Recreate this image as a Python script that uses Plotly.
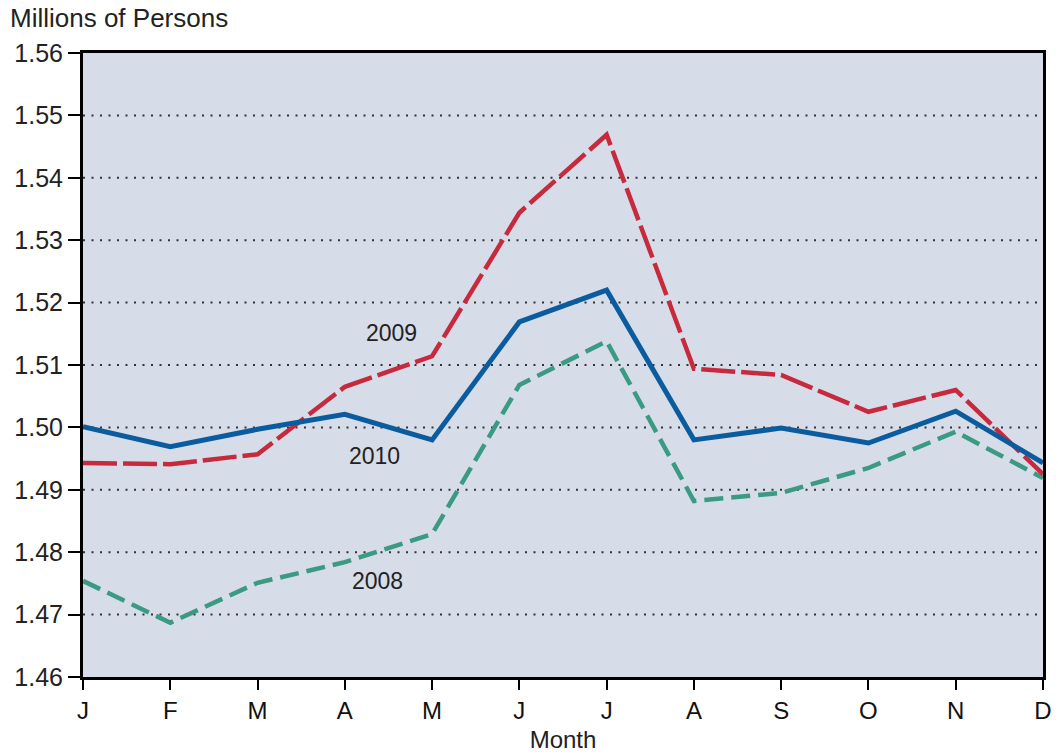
import plotly.graph_objects as go

months = ["J", "F", "M", "A", "M", "J", "J", "A", "S", "O", "N", "D"]
y2010 = [1.5001, 1.4969, 1.4997, 1.5021, 1.4980, 1.5169, 1.5220, 1.4980, 1.4999, 1.4975, 1.5026, 1.4943]
y2009 = [1.4943, 1.4941, 1.4957, 1.5065, 1.5114, 1.5344, 1.5469, 1.5094, 1.5084, 1.5025, 1.5060, 1.4925]
y2008 = [1.4754, 1.4687, 1.4751, 1.4784, 1.4829, 1.5068, 1.5138, 1.4882, 1.4895, 1.4935, 1.4993, 1.4919]
ytick_vals = [1.46, 1.47, 1.48, 1.49, 1.50, 1.51, 1.52, 1.53, 1.54, 1.55, 1.56]
ytick_text = ["1.46", "1.47", "1.48", "1.49", "1.50", "1.51", "1.52", "1.53", "1.54", "1.55", "1.56"]

x = list(range(len(months)))
FONT = "Liberation Sans, Arial, sans-serif"

fig = go.Figure()
for v in ytick_vals[1:-1]:
    fig.add_shape(type="line", xref="paper", yref="y", x0=0, x1=1, y0=v, y1=v,
                  line=dict(color="#333333", width=2, dash="2px,6.5px"), layer="below")

fig.add_trace(go.Scatter(x=x, y=y2008, mode="lines", name="2008",
                         line=dict(color="#3A9A82", width=4.5, dash="19px,8px")))
fig.add_trace(go.Scatter(x=x, y=y2009, mode="lines", name="2009",
                         line=dict(color="#C72A3C", width=4.5, dash="34px,6px")))
fig.add_trace(go.Scatter(x=x, y=y2010, mode="lines", name="2010",
                         line=dict(color="#0B5C9E", width=5)))

for txt, xx, yy in [("2009", 3.54, 1.5151), ("2010", 3.34, 1.4954), ("2008", 3.38, 1.4754)]:
    fig.add_annotation(x=xx, y=yy, text=txt, showarrow=False,
                       font=dict(family=FONT, size=23, color="#222222"))

fig.add_annotation(xref="paper", yref="paper", x=-0.078, y=1.0, yshift=35, xanchor="left",
                   yanchor="middle", text="Millions of Persons", showarrow=False,
                   font=dict(family=FONT, size=26, color="#222222"))

fig.update_layout(
    width=1058, height=756,
    margin=dict(l=83, r=15, t=53, b=79, autoexpand=False),
    paper_bgcolor="white", plot_bgcolor="#D6DCE8",
    showlegend=False,
    font=dict(family=FONT, color="#111111"),
)
fig.update_xaxes(range=[0, 11], tickvals=x, ticktext=months, ticks="outside", ticklen=10,
                 tickwidth=2, tickcolor="black", showgrid=False, zeroline=False, automargin=False,
                 showline=True, linecolor="black", linewidth=3, mirror=True,
                 tickfont=dict(family=FONT, size=24, color="#111111"),
                 title=dict(text="Month", font=dict(family=FONT, size=24, color="#222222"), standoff=9))
fig.update_yaxes(range=[1.46, 1.56], tickvals=ytick_vals, ticktext=ytick_text, ticks="outside",
                 ticklen=12, tickwidth=2, tickcolor="black", showgrid=False, zeroline=False,
                 automargin=False,
                 showline=True, linecolor="black", linewidth=3, mirror=True,
                 tickfont=dict(family=FONT, size=25, color="#222222"))

fig.write_html("out.html", config={"displayModeBar": False},
               post_script="document.body.style.margin='0';document.body.style.overflow='hidden';")
